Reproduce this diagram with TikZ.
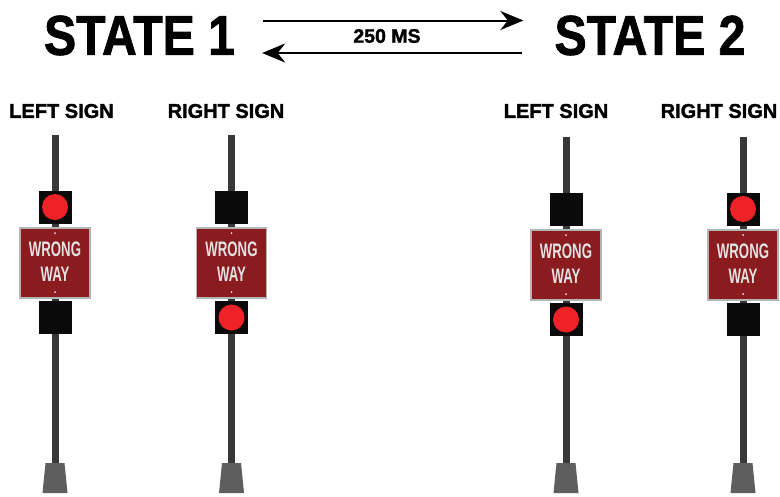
\documentclass[tikz,border=0pt]{standalone}
\usepackage{fontspec}
\setmainfont{Liberation Sans}
\newfontfamily\heavyfont{Liberation Sans}[BoldFeatures={FakeBold=1.6}]
\usetikzlibrary{arrows.meta, positioning}
\definecolor{signred}{HTML}{8A1B1F}
\definecolor{lampred}{HTML}{EE2227}
\definecolor{lampbox}{HTML}{0A0A0A}
\definecolor{polegray}{HTML}{383838}
\definecolor{basegray}{HTML}{5E5E5E}
\definecolor{rimgray}{HTML}{B4B4B4}
\definecolor{lettergray}{HTML}{E2E2E2}

\begin{document}
\begin{tikzpicture}[x=1pt, y=-1pt,
  title/.style={inner sep=0, font=\heavyfont\fontsize{56}{56}\selectfont\bfseries},
  label/.style={inner sep=0, font=\heavyfont\fontsize{20}{20}\selectfont\bfseries},
  flow/.style={line width=2pt, -{Stealth[length=23pt, width=19pt]}},
  letters/.style={inner sep=0, text=lettergray, font=\fontsize{21}{21}\selectfont\bfseries}]
  \useasboundingbox[fill=white] (0,0) rectangle (780,496);

  % Titles and the switching arrows
  \node[title] (st1) at (139.5,35.5) {\scalebox{0.86}[1]{STATE 1}};
  \node[title] (st2) at (650,35.5) {\scalebox{0.86}[1]{STATE 2}};
  \draw[flow] ([xshift=28pt, yshift=15pt]st1.east) -- ([xshift=-31pt, yshift=15pt]st2.west);
  \draw[flow] ([xshift=-32pt, yshift=-17.5pt]st2.west) -- ([xshift=27pt, yshift=-17.5pt]st1.east);
  \node[label, font=\heavyfont\fontsize{19.5}{19.5}\selectfont\bfseries] (dt) at (387,36) {250 MS};

  % Sign captions
  \node[label] (l1) at (61.5,111) {LEFT SIGN};
  \node[label] (r1) at (226,111) {RIGHT SIGN};
  \node[label] (l2) at (556,111) {LEFT SIGN};
  \node[label] (r2) at (719,111) {RIGHT SIGN};

  % Poles: x of pole, vertical offset, y of the lit lamp
  \foreach \i/\px/\dy/\ly in {1/55/0/207, 2/231.5/0/317.5, 3/566/2/317.5, 4/743/2/207}{
    \fill[polegray] (\px-3.5,135+\dy) rectangle (\px+3.5,463);
    \fill[basegray] (\px-9.5,463) -- (\px+9.5,463) -- (\px+12.5,493) -- (\px-12.5,493) -- cycle;
    % lamp housings
    \fill[lampbox] (\px-16.5,191+\dy) rectangle (\px+16.5,224+\dy);
    \fill[lampbox] (\px-16.5,301+\dy) rectangle (\px+16.5,334+\dy);
    \fill[lampred] (\px,\ly+\dy) circle (13);
    % panel
    \filldraw[fill=signred, draw=rimgray, line width=1.5pt] (\px-35,228+\dy) rectangle (\px+35,298+\dy);
    \fill[lettergray] (\px,233+\dy) circle (1);
    \fill[lettergray] (\px,292+\dy) circle (1);
    \node[letters] (w\i) at (\px,249+\dy) {\scalebox{0.63}[1]{WRONG}};
    \node[letters] (y\i) at (\px,274+\dy) {\scalebox{0.63}[1]{WAY}};
  }
\end{tikzpicture}
\end{document}
